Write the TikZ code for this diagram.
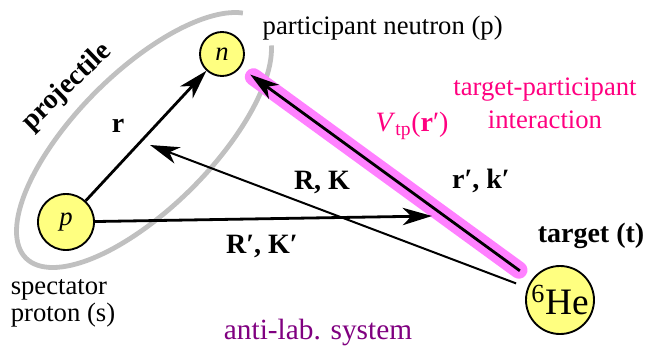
\documentclass[tikz,border=0pt]{standalone}
\usepackage{fontspec}
\setmainfont{Liberation Serif}
\usetikzlibrary{arrows.meta, positioning, calc}
\definecolor{ringgray}{HTML}{C0C0C0}
\definecolor{nucyellow}{HTML}{FFFF80}
\definecolor{tpglow}{HTML}{FF80FF}
\definecolor{tptext}{HTML}{FF0080}
\definecolor{labpurple}{HTML}{800080}
\newcommand{\nucleon}[4]{%
  \node[circle, draw=black, line width=1.4pt, fill=nucyellow,
        minimum size=#3, inner sep=0pt] (#1) at (#2) {#4};}

\begin{document}
\begin{tikzpicture}[x=0.75pt, y=-0.75pt,
    font=\fontsize{20}{24}\selectfont,
    vec/.style={-{Stealth[length=22pt, width=13pt, inset=6.5pt]}, line width=2.1pt},
    thinvec/.style={-{Stealth[length=22pt, width=13pt, inset=6.5pt]}, line width=1.5pt},
    boldlab/.style={font=\fontsize{21}{24}\selectfont\bfseries}]
  \useasboundingbox (0,0) rectangle (661,354);

  % projectile ring, open near the participant
  \begin{scope}[shift={(144,140)}, rotate=45]
    \draw[ringgray, line width=3.6pt] (20:167 and 68)
      arc[start angle=20, end angle=343, x radius=167, y radius=68];
  \end{scope}

  % glow of the interaction
  \nucleon{n}{222,54}{33pt}{\textit{n}}
  \nucleon{p}{66,222}{42pt}{\textit{p}}
  \nucleon{He}{560,300}{51pt}{\fontsize{28}{30}\selectfont\textsuperscript{6}He}
  \draw[tpglow, line width=13pt, line cap=round, shorten <=12pt, shorten >=12pt] (He) -- (n);

  \coordinate (RKtip) at (150,145);
  \coordinate (RKpend) at (432,216);
  \draw[vec] (p) -- (n);
  \draw[vec] (p) -- (RKpend);
  \draw[thinvec, shorten <=9pt] (He) -- (RKtip);
  \draw[vec, shorten <=11pt, shorten >=9pt] (He) -- (n);

  % labels
  \node[anchor=west] (partlab) at (258,28) {participant neutron (p)};
  \node[boldlab, rotate=44] (projlab) at (67,87) {projectile};
  \node[boldlab] (rlab) at (118,126) {r};
  \node[boldlab] (RKlab) at (322,182) {R, K};
  \node[boldlab] (rklab) at (481,181) {r′, k′};
  \node[boldlab] (RKplab) at (262,246) {R′, K′};
  \node[text=tptext, font=\fontsize{21}{24}\selectfont] (Vlab) at (412,126)
    {\textit{V}\textsubscript{tp}(\textbf{r}′)};
  \node[text=tptext, align=center, font=\fontsize{20}{25}\selectfont] (tplab) at (545,103)
    {target-participant\\interaction};
  \node[boldlab] (tlab) at (591,236) {target (t)};
  \node[align=left, font=\fontsize{20}{20}\selectfont] (slab) at (63,303) {spectator\\proton (s)};
  \node[text=labpurple, font=\fontsize{22}{24}\selectfont] (syslab) at (318,332) {anti-lab. system};
\end{tikzpicture}
\end{document}
